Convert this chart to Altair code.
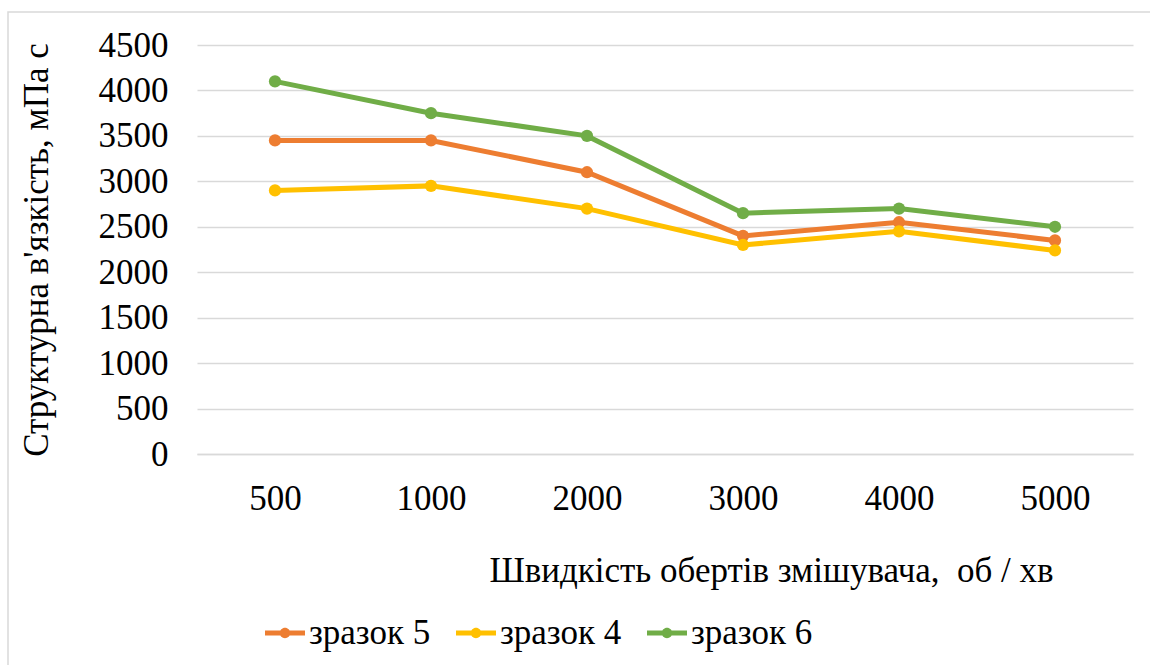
import altair as alt
import pandas as pd

speeds = ["500", "1000", "2000", "3000", "4000", "5000"]
series_names = ["зразок 5", "зразок 4", "зразок 6"]
zrazok5 = [3450, 3450, 3100, 2400, 2550, 2350]
zrazok4 = [2900, 2950, 2700, 2300, 2450, 2240]
zrazok6 = [4100, 3750, 3500, 2650, 2700, 2500]
colors = ["#ED7D31", "#FFC000", "#70AD47"]
y_ticks = [0, 500, 1000, 1500, 2000, 2500, 3000, 3500, 4000, 4500]

rows = []
for name, vals in zip(series_names, [zrazok5, zrazok4, zrazok6]):
    for s, v in zip(speeds, vals):
        rows.append({"speed": s, "value": v, "series": name})
df = pd.DataFrame(rows)
df["order"] = df["series"].map({n: i for i, n in enumerate(series_names)})

FONT = "Times New Roman, Times, serif"
FS = 35
W, H = 936, 409

legend_path = ("M-1,-0.12H1V0.12H-1Z "
               "M-0.26,0A0.26,0.26 0 1,1 0.26,0A0.26,0.26 0 1,1 -0.26,0Z")

color = alt.Color(
    "series:N",
    scale=alt.Scale(domain=series_names, range=colors),
    sort=series_names,
    legend=alt.Legend(
        title=None, orient="none", direction="horizontal",
        legendX=68, legendY=568,
        symbolType=legend_path, symbolSize=1600, symbolStrokeWidth=0,
        labelFont=FONT, labelFontSize=FS, labelColor="#000000",
        labelOffset=4, columnPadding=25, symbolOpacity=1,
    ),
)

x = alt.X(
    "speed:N", sort=speeds,
    scale=alt.Scale(paddingInner=0, paddingOuter=0, align=0.5),
    axis=alt.Axis(
        title="Швидкість обертів змішувача,\u00a0\u00a0об / хв",
        titleFont=FONT, titleFontSize=FS, titleFontWeight="normal",
        titleColor="#000000", titleX=574, titleY=116, titleAlign="center",
        titleBaseline="middle",
        labelFont=FONT, labelFontSize=FS, labelColor="#000000",
        labelPadding=27, labelAngle=0, ticks=False,
        domainColor="#d9d9d9", domainWidth=1.5, grid=False,
    ),
)
y = alt.Y(
    "value:Q",
    scale=alt.Scale(domain=[0, 4500], nice=False),
    axis=alt.Axis(
        title="Структурна в'язкість, мПа с",
        titleFont=FONT, titleFontSize=FS, titleFontWeight="normal",
        titleColor="#000000", titlePadding=44,
        labelFont=FONT, labelFontSize=FS, labelColor="#000000",
        labelPadding=29, values=y_ticks, format="d", ticks=False, domain=False,
        gridColor="#d9d9d9", gridWidth=1.5,
    ),
)

lines = alt.Chart(df).mark_line(strokeWidth=5).encode(
    x=x, y=y, color=color, detail="series:N", order="order:Q"
)
points = alt.Chart(df).mark_point(filled=True, size=150, opacity=1).encode(
    x=x, y=y, color=color
)

frame = alt.Chart(pd.DataFrame({"a": [0]})).mark_rect(
    fill=None, stroke="#d9d9d9", strokeWidth=1.5
).encode(
    x=alt.value(-189), x2=alt.value(980), y=alt.value(-33), y2=alt.value(650)
)

chart = alt.layer(frame, lines, points).properties(
    width=W, height=H,
    autosize=alt.AutoSizeParams(type="none"),
    padding={"left": 197, "top": 45, "right": 17, "bottom": 211},
    background="#ffffff",
).configure(font=FONT).configure_view(stroke=None)

chart.save("out.html", embed_options={"renderer": "svg", "actions": False})
